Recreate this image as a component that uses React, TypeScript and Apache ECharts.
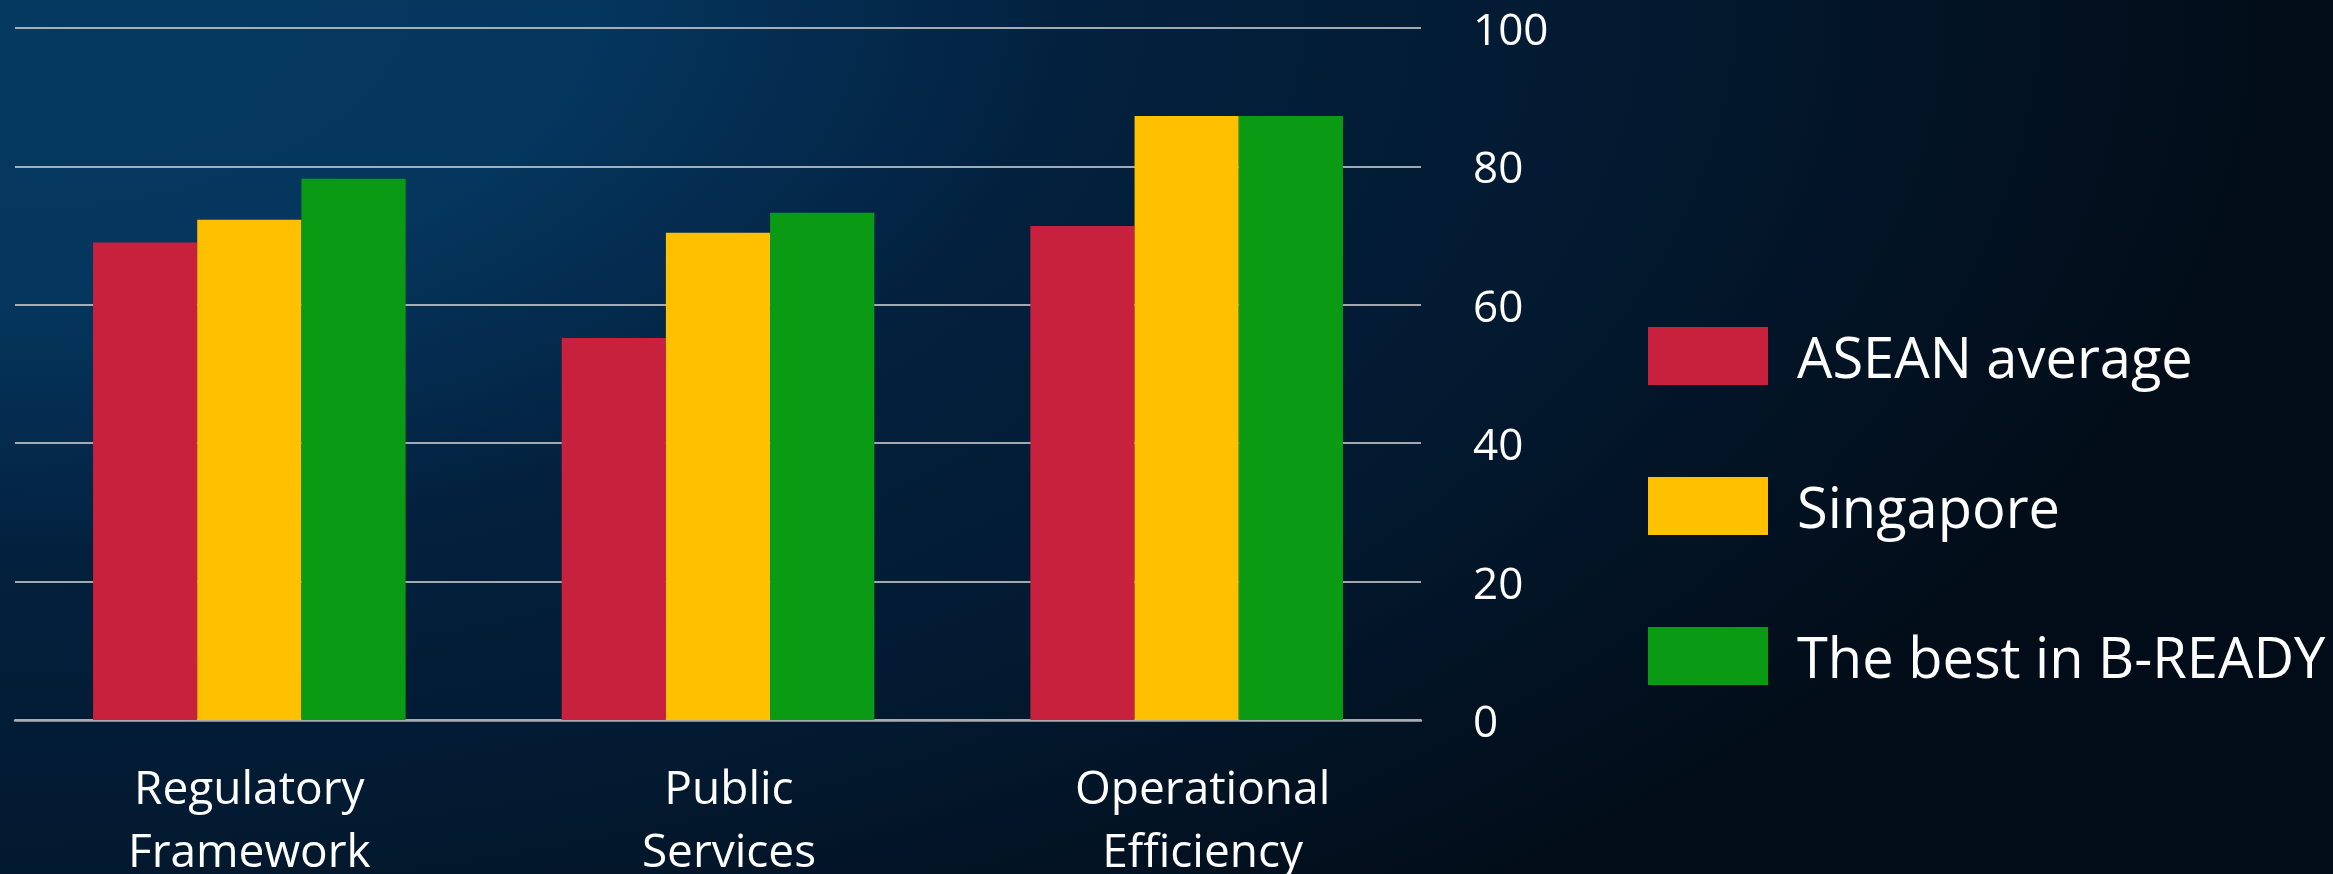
import React, { useEffect, useRef } from "react";
import * as echarts from "echarts";

const categories = ["Regulatory\nFramework", "Public\nServices", "Operational\nEfficiency"];
const seriesNames = ["ASEAN average", "Singapore", "The best in B-READY"];
const aseanAverage = [69.0, 55.2, 71.4];
const singapore = [72.3, 70.4, 87.3];
const bestInBReady = [78.2, 73.3, 87.3];
const seriesColors = ["#C8213D", "#FFC000", "#0A9A13"];
const yTicks = { min: 0, max: 100, interval: 20 };

const FONT = "'Open Sans', 'Noto Sans', sans-serif";

// Slide-style elliptical glow from the top-left corner
const BACKGROUND =
  "radial-gradient(1612px 830px at 0px 0px, #05395f 0%, #05375e 35%, #042c50 50%, #03203d 68%, #031a31 100%, #020d19 141%, #020c18 175%)";

export default function App() {
  const ref = useRef<HTMLDivElement>(null);

  useEffect(() => {
    document.body.style.margin = "0";
    const chart = echarts.init(ref.current!, null, { renderer: "svg" });
    const values = [aseanAverage, singapore, bestInBReady];
    // left padding per category label nudges the centred text to the right
    const labelShift = [0, 22, 32];

    chart.setOption({
      animation: false,
      backgroundColor: "transparent",
      grid: { left: 15, right: 912, top: 28, bottom: 154, containLabel: false },
      legend: {
        orient: "vertical",
        left: 1648,
        top: 327,
        itemWidth: 120,
        itemHeight: 58,
        itemGap: 92,
        padding: 0,
        icon: "rect",
        data: seriesNames,
        textStyle: {
          color: "#ffffff",
          fontSize: 56,
          fontFamily: FONT,
          padding: [0, 0, 0, 24],
        },
      },
      xAxis: {
        type: "category",
        data: categories,
        axisTick: { show: false },
        axisLine: { lineStyle: { color: "#a9adb3", width: 2.5 } },
        axisLabel: {
          interval: 0,
          margin: 34,
          formatter: (value: string, index: number) =>
            value
              .split("\n")
              .map((line) => `{c${index}|${line}}`)
              .join("\n"),
          rich: Object.fromEntries(
            labelShift.map((shift, i) => [
              `c${i}`,
              {
                color: "#ffffff",
                fontSize: 46,
                fontFamily: FONT,
                lineHeight: 63,
                padding: [0, 0, 0, shift],
              },
            ])
          ),
        },
      },
      yAxis: {
        type: "value",
        position: "right",
        min: yTicks.min,
        max: yTicks.max,
        interval: yTicks.interval,
        axisLine: { show: false },
        axisTick: { show: false },
        splitLine: { lineStyle: { color: "#d9d9d9", width: 1.5 } },
        axisLabel: {
          color: "#ffffff",
          fontSize: 44,
          fontFamily: FONT,
          margin: 52,
        },
      },
      series: seriesNames.map((name, i) => ({
        name,
        type: "bar",
        data: values[i],
        barGap: "0%",
        barCategoryGap: "33.3%",
        itemStyle: { color: seriesColors[i] },
      })),
    });

    return () => chart.dispose();
  }, []);

  return (
    <div
      ref={ref}
      style={{
        position: "fixed",
        left: 0,
        top: 0,
        width: 2333,
        height: 874,
        background: BACKGROUND,
      }}
    />
  );
}
